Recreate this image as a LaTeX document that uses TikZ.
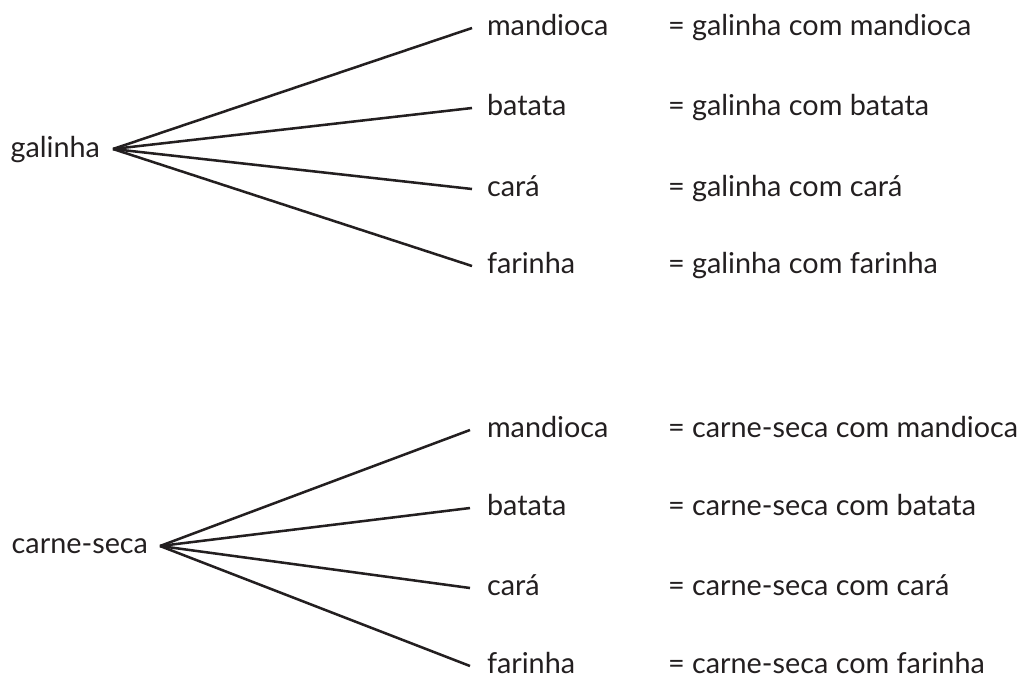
\documentclass[tikz,border=0pt]{standalone}
\usepackage{fontspec}
\setmainfont{Lato}
\definecolor{ink}{HTML}{231F20}
\begin{document}
\begin{tikzpicture}[x=0.75pt,y=-0.75pt,
  every node/.style={inner sep=0pt,outer sep=0pt,text=ink,font=\fontsize{21.6}{26}\selectfont},
  lbl/.style={anchor=base west},
  root/.style={anchor=base east},
  branch/.style={draw=ink,line width=1.9pt,line cap=butt}]
\useasboundingbox (0,0) rectangle (1023,682);
% top tree
\node[root] (galinha) at (100,157) {galinha};
\coordinate (ga) at (113,149);
\foreach \n/\y/\t in {m1/28/mandioca, b1/108/batata, c1/189/cará, f1/266/farinha}{
  \coordinate (e\n) at (472,\y);
  \node[lbl] (\n) at (487,\y+7) {\t};
  \node[lbl] (r\n) at (668,\y+7) {= galinha com \t};
  \draw[branch] (ga) -- (e\n);
}
% bottom tree
\node[root] (carne) at (148,553) {carne-seca};
\coordinate (ca) at (160,546);
\foreach \n/\y/\t in {m2/430/mandioca, b2/508/batata, c2/588/cará, f2/666/farinha}{
  \coordinate (e\n) at (470,\y);
  \node[lbl] (\n) at (487,\y+7) {\t};
  \node[lbl] (r\n) at (668,\y+7) {= carne-seca com \t};
  \draw[branch] (ca) -- (e\n);
}
\end{tikzpicture}
\end{document}
